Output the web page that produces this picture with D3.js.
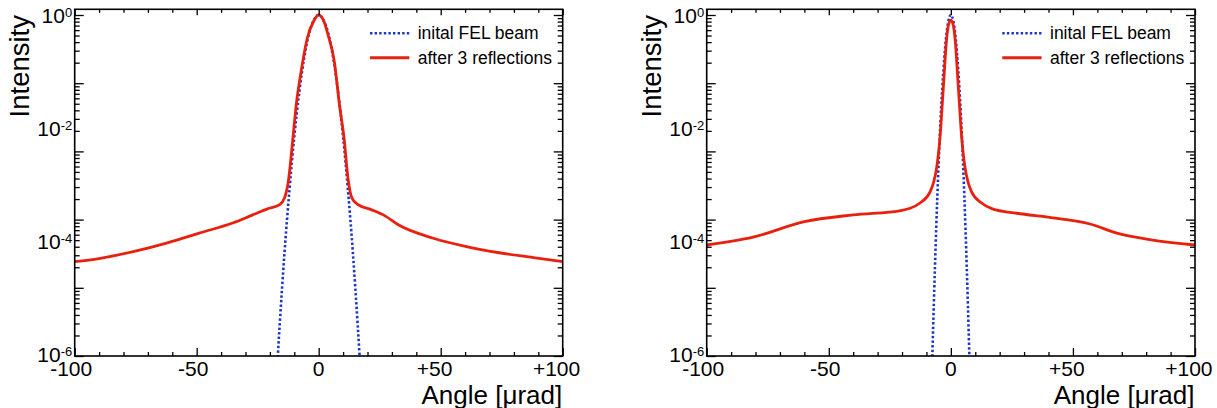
<!DOCTYPE html>
<html>
<head>
<meta charset="utf-8">
<script src="https://cdn.jsdelivr.net/npm/d3@7"></script>
<style>
html,body{margin:0;padding:0;background:#fff;}
svg{display:block;}
text{font-family:"Liberation Sans",Arial,sans-serif;fill:#000;}
</style>
</head>
<body>
<svg id="chart" width="1217" height="408"></svg>
<script>
// ---------- data ----------
// Left panel
const leftRedAngle = [-100,-90,-76,-62,-49,-35,-27,-21,-16,-14,-12.5,-10.5,-9.2,-7.4,-4.6,-2.2,0,2.2,3.8,6.3,8.6,10.4,12.0,13.6,16.1,21.5,26.5,33,47,61,74,88,100];
const leftRed = [4.3e-5,4.9e-5,6.5e-5,9.3e-5,1.38e-4,2.1e-4,2.9e-4,3.7e-4,4.4e-4,5.8e-4,1.1e-3,7.1e-3,0.026,0.089,0.40,0.76,1.0,0.76,0.45,0.16,0.024,6.6e-3,1.3e-3,5.8e-4,4.4e-4,3.6e-4,2.9e-4,1.9e-4,1.12e-4,7.9e-5,6.2e-5,5.1e-5,4.3e-5];
const leftBlueAngle = [-18,-16,-14,-12,-10,-8,-6,-4,-2,0,2,4,6,8,10,12,14,16,18];
const leftBlue = [1.1e-7,3.2e-6,6.3e-5,7.9e-4,7.1e-3,0.042,0.17,0.46,0.81,1.0,0.81,0.46,0.17,0.042,7.1e-3,7.9e-4,6.3e-5,3.2e-6,1.1e-7];
// Right panel
const rightRedAngle = [-100,-81,-60,-40,-20,-16.7,-12.6,-8.5,-7,-5.8,-4.4,-3.1,-1.7,-0.8,0,0.8,1.7,3.1,4.4,5.8,7,8.5,12.6,17,27,41,57,68,82,100];
const rightRed = [8.5e-5,1.17e-4,2.2e-4,2.9e-4,3.5e-4,3.8e-4,4.7e-4,7.4e-4,1.12e-3,2.0e-3,7.1e-3,0.05,0.39,0.71,0.81,0.71,0.39,0.05,7.1e-3,2.0e-3,1.12e-3,7.4e-4,4.7e-4,3.7e-4,3.1e-4,2.6e-4,2.0e-4,1.38e-4,1.05e-4,8.5e-5];
const rightBlueAngle = [-8,-7,-6,-5,-4,-3,-2,-1,0,1,2,3,4,5,6,7,8];
const rightBlue = [2e-7,7.1e-6,1.66e-4,2.4e-3,0.021,0.11,0.38,0.79,1.0,0.79,0.38,0.11,0.021,2.4e-3,1.66e-4,7.1e-6,2e-7];

// ticks / labels
const xTickValues = [-100,-50,0,50,100];
const xTickLabels = ["-100","-50","0","+50","+100"];
const xMinorValues = [-90,-80,-70,-60,-40,-30,-20,-10,10,20,30,40,60,70,80,90];
const yLabelValues = [1,1e-2,1e-4,1e-6];
const yLabelExps = ["0","-2","-4","-6"];
const seriesNames = ["inital FEL beam","after 3 reflections"];
const xTitle = "Angle [\u03bcrad]";
const yTitle = "Intensity";

// ---------- layout ----------
const svg = d3.select("#chart");
const TOP = 9.3, BOTTOM = 356;
const RED = "#e8210f", BLUE = "#1c35c4";

const panels = [
  {x0:74.7, x1:562.7, red:[leftRedAngle,leftRed], blue:[leftBlueAngle,leftBlue], id:"L"},
  {x0:706.7, x1:1195, red:[rightRedAngle,rightRed], blue:[rightBlueAngle,rightBlue], id:"R"}
];

const yScale = d3.scaleLog().domain([Math.pow(10,-6.035), Math.pow(10,0.1009)]).range([BOTTOM, TOP]);
const yTickScale = d3.scaleLog().domain([1e-5, 1]).range([BOTTOM, 15]);
const yMajor = [], yMinor = [];
for (let k=-5;k<=0;k++){ yMajor.push(Math.pow(10,k)); if(k<0) for(let m=2;m<=9;m++) yMinor.push(m*Math.pow(10,k)); }

// helper to measure a string width
function measure(str, size){
  const t = svg.append("text").attr("font-size",size).attr("x",-1000).attr("y",-1000).text(str);
  const w = t.node().getComputedTextLength(); t.remove(); return w;
}

panels.forEach(p=>{
  const x = d3.scaleLinear().domain([-100,100]).range([p.x0,p.x1]);
  const g = svg.append("g");

  svg.append("clipPath").attr("id","clip"+p.id).append("rect")
    .attr("x",p.x0).attr("y",TOP).attr("width",p.x1-p.x0).attr("height",BOTTOM-TOP);

  const line = d3.line().x(d=>x(d[0])).y(d=>yScale(Math.max(d[1],1e-9))).curve(d3.curveMonotoneX);

  const plot = g.append("g").attr("clip-path","url(#clip"+p.id+")");
  plot.append("path").datum(d3.zip(p.blue[0],p.blue[1]))
    .attr("d",line).attr("fill","none").attr("stroke",BLUE)
    .attr("stroke-width",2.6).attr("stroke-dasharray","2.4,2.2");
  plot.append("path").datum(d3.zip(p.red[0],p.red[1]))
    .attr("d",line).attr("fill","none").attr("stroke",RED)
    .attr("stroke-width",2.8).attr("stroke-linejoin","round");

  const mk = (axis, tx, ty) => g.append("g").attr("transform",`translate(${tx},${ty})`).call(axis)
      .call(s=>{s.select(".domain").remove(); s.selectAll("line").attr("stroke","#000").attr("stroke-width",1.3);});
  mk(d3.axisBottom(x).tickValues(xTickValues).tickSize(-8).tickFormat(""),0,BOTTOM);
  mk(d3.axisBottom(x).tickValues(xMinorValues).tickSize(-4).tickFormat(""),0,BOTTOM);
  mk(d3.axisTop(x).tickValues(xTickValues).tickSize(-6).tickFormat(""),0,TOP);
  mk(d3.axisTop(x).tickValues(xMinorValues).tickSize(-3.5).tickFormat(""),0,TOP);
  mk(d3.axisLeft(yTickScale).tickValues(yMajor).tickSize(-9).tickFormat(""),p.x0,0);
  mk(d3.axisLeft(yTickScale).tickValues(yMinor).tickSize(-5).tickFormat(""),p.x0,0);
  mk(d3.axisRight(yTickScale).tickValues(yMajor).tickSize(-9).tickFormat(""),p.x1,0);
  mk(d3.axisRight(yTickScale).tickValues(yMinor).tickSize(-5).tickFormat(""),p.x1,0);

  g.append("rect").attr("x",p.x0).attr("y",TOP).attr("width",p.x1-p.x0).attr("height",BOTTOM-TOP)
    .attr("fill","none").attr("stroke","#000").attr("stroke-width",1.6);

  // x tick labels: digits centred on the tick, sign placed before (one text each)
  xTickValues.forEach((v,i)=>{
    const lab = xTickLabels[i];
    const sign = /^[+-]/.test(lab) ? lab[0] : "";
    const digits = sign ? lab.slice(1) : lab;
    const wd = measure(digits,21), ws = sign ? measure(sign,21) : 0;
    g.append("text").attr("x",x(v)-wd/2-ws).attr("y",376).attr("text-anchor","start")
      .attr("font-size",21).text(lab);
  });

  yLabelValues.forEach((v,i)=>{
    const yy = yScale(v);
    const t = g.append("text").attr("x",p.x0-2.5).attr("y",yy+7.5).attr("text-anchor","end");
    t.append("tspan").attr("font-size",21).text("10");
    t.append("tspan").attr("font-size",13).attr("dy",-6).text(yLabelExps[i]);
  });

  g.append("text").attr("transform",`translate(${p.x0-45.5},15) rotate(-90)`)
    .attr("text-anchor","end").attr("font-size",27.5).text(yTitle);
  g.append("text").attr("x",p.x1-0.5).attr("y",403.5).attr("text-anchor","end")
    .attr("font-size",26).text(xTitle);

  const lx0 = p.x1-192.7, lx1 = p.x1-153.4, tx = p.x1-145;
  g.append("line").attr("x1",lx0).attr("x2",lx1).attr("y1",33.3).attr("y2",33.3)
    .attr("stroke",BLUE).attr("stroke-width",2.6).attr("stroke-dasharray","2.4,2.2");
  g.append("line").attr("x1",lx0).attr("x2",lx1).attr("y1",57.7).attr("y2",57.7)
    .attr("stroke",RED).attr("stroke-width",3);
  g.append("text").attr("x",tx).attr("y",39.3).attr("font-size",17.5).text(seriesNames[0]);
  g.append("text").attr("x",tx).attr("y",64).attr("font-size",17.5).text(seriesNames[1]);
});
</script>
</body>
</html>
